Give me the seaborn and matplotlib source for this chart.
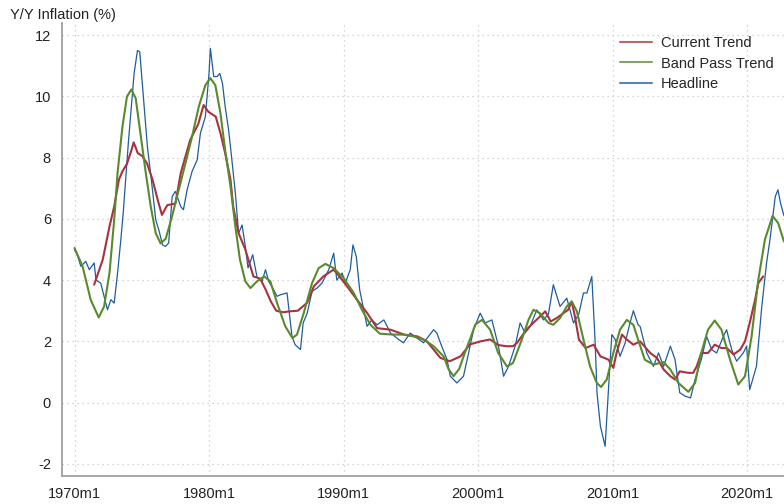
import numpy as np
import pandas as pd
import matplotlib
matplotlib.use("Agg")
import matplotlib.pyplot as plt
import seaborn as sns

# Headline y/y inflation (decimal year, %)
hl_year = [1970.0, 1970.2, 1970.47, 1970.84, 1971.1, 1971.46, 1971.6, 1971.95, 1972.2, 1972.45,
           1972.7, 1972.95, 1973.2, 1973.44, 1973.62, 1973.8, 1974.0, 1974.23, 1974.43, 1974.68,
           1974.85, 1975.18, 1975.42, 1975.74, 1976.04, 1976.3, 1976.54, 1976.76, 1977.0, 1977.26,
           1977.5, 1977.9, 1978.1, 1978.37, 1978.74, 1979.12, 1979.36, 1979.73, 1980.0, 1980.1,
           1980.35, 1980.6, 1980.8, 1981.0, 1981.2, 1981.46, 1981.7, 1981.96, 1982.2, 1982.46,
           1982.7, 1982.9, 1983.08, 1983.25, 1983.57, 1983.94, 1984.2, 1984.44, 1984.8, 1985.06,
           1985.3, 1985.8, 1986.17, 1986.4, 1986.8, 1987.0, 1987.3, 1987.66, 1988.03, 1988.4,
           1988.9, 1989.27, 1989.5, 1989.9, 1990.13, 1990.5, 1990.7, 1990.95, 1991.2, 1991.5,
           1991.75, 1992.1, 1992.5, 1993.0, 1993.5, 1994.1, 1994.46, 1994.96, 1995.46, 1995.95,
           1996.7, 1996.94, 1997.3, 1997.7, 1997.94, 1998.43, 1998.92, 1999.3, 1999.67, 2000.16,
           2000.53, 2001.03, 2001.52, 2001.9, 2002.27, 2002.76, 2003.13, 2003.5, 2003.88, 2004.37,
           2004.87, 2005.24, 2005.6, 2006.1, 2006.6, 2007.1, 2007.5, 2007.84, 2008.1, 2008.46,
           2008.7, 2008.85, 2009.1, 2009.45, 2009.8, 2009.95, 2010.2, 2010.56, 2010.94, 2011.3,
           2011.55, 2011.9, 2012.05, 2012.55, 2013.04, 2013.42, 2013.8, 2014.3, 2014.65, 2015.0,
           2015.4, 2015.8, 2016.14, 2016.6, 2017.0, 2017.37, 2017.74, 2018.24, 2018.48, 2018.86,
           2019.23, 2019.72, 2019.97, 2020.2, 2020.7, 2021.1, 2021.45, 2021.7, 2022.1, 2022.3,
           2022.5, 2022.75]
hl_val = [4.99, 4.83, 4.45, 4.61, 4.34, 4.56, 4.0, 3.9, 3.47, 3.03,
          3.36, 3.25, 4.23, 5.3, 6.19, 7.28, 8.47, 9.67, 10.75, 11.5,
          11.46, 9.67, 8.36, 7.17, 5.97, 5.59, 5.15, 5.1, 5.21, 6.73,
          6.9, 6.4, 6.3, 6.95, 7.55, 7.93, 8.8, 9.34, 10.75, 11.57,
          10.65, 10.65, 10.75, 10.43, 9.67, 8.9, 7.93, 6.84, 5.53, 5.8,
          5.1, 4.4, 4.61, 4.83, 4.1, 3.96, 4.34, 3.96, 3.69, 3.47,
          3.52, 3.58, 2.16, 1.89, 1.73, 2.6, 2.92, 3.63, 3.74, 3.9,
          4.34, 4.88, 4.0, 4.23, 3.9, 4.34, 5.15, 4.77, 3.69, 3.03,
          2.49, 2.7, 2.54, 2.7, 2.27, 2.06, 1.95, 2.27, 2.11, 1.95,
          2.38, 2.27, 1.84, 1.4, 0.86, 0.64, 0.86, 1.62, 2.38, 2.92,
          2.6, 2.7, 1.84, 0.86, 1.18, 1.84, 2.6, 2.27, 2.49, 3.03,
          2.7, 2.9, 3.85, 3.14, 3.41, 2.6, 2.9, 3.58, 3.58, 4.12,
          2.06, 0.3, -0.77, -1.43, 1.18, 2.22, 2.06, 1.51, 1.95, 2.6,
          3.0, 2.54, 2.49, 1.62, 1.18, 1.62, 1.18, 1.84, 1.4, 0.32,
          0.21, 0.15, 0.75, 1.4, 2.16, 1.73, 1.62, 2.16, 2.38, 1.73,
          1.35, 1.62, 1.84, 0.42, 1.18, 3.14, 4.55, 5.3, 6.73, 6.95,
          6.5, 6.1]

# Current trend
ct_year = [1971.46, 1972.1, 1972.6, 1972.95, 1973.3, 1973.56, 1973.9, 1974.2, 1974.4, 1974.7,
           1975.05, 1975.4, 1975.8, 1976.2, 1976.5, 1976.9, 1977.5, 1977.9, 1978.6, 1979.2,
           1979.6, 1979.95, 1980.5, 1980.85, 1981.2, 1981.6, 1981.8, 1982.2, 1982.7, 1983.3,
           1983.8, 1984.2, 1984.6, 1985.0, 1985.5, 1986.0, 1986.6, 1987.3, 1987.8, 1988.5,
           1989.25, 1989.5, 1990.26, 1991.0, 1991.75, 1992.5, 1993.5, 1994.5, 1995.5, 1996.2,
           1997.2, 1997.9, 1998.7, 1999.4, 2000.2, 2000.9, 2001.5, 2002.1, 2002.6, 2002.9,
           2003.6, 2004.1, 2004.75, 2005.0, 2005.4, 2005.85, 2006.35, 2006.7, 2006.97, 2007.2,
           2007.5, 2008.0, 2008.6, 2009.1, 2009.7, 2010.06, 2010.3, 2010.7, 2011.06, 2011.55,
           2012.05, 2012.8, 2013.3, 2013.8, 2014.3, 2014.65, 2015.0, 2015.64, 2016.0, 2016.26,
           2016.6, 2017.1, 2017.6, 2018.1, 2018.5, 2019.0, 2019.5, 2019.85, 2020.2, 2020.6,
           2020.84, 2021.2]
ct_val = [3.85, 4.67, 5.75, 6.4, 7.28, 7.55, 7.8, 8.2, 8.5, 8.15,
          8.05, 7.8, 7.28, 6.6, 6.13, 6.45, 6.5, 7.5, 8.58, 9.1,
          9.72, 9.5, 9.34, 8.8, 8.15, 7.27, 6.4, 5.53, 5.0, 4.12,
          4.05, 3.7, 3.3, 3.0, 2.95, 2.98, 3.0, 3.26, 3.8, 4.12,
          4.34, 4.23, 3.8, 3.36, 2.93, 2.43, 2.38, 2.22, 2.16, 2.0,
          1.46, 1.35, 1.51, 1.9, 2.0, 2.06, 1.88, 1.84, 1.84, 1.95,
          2.38, 2.6, 2.87, 2.98, 2.65, 2.76, 2.92, 3.03, 3.3, 2.82,
          2.06, 1.78, 1.89, 1.51, 1.4, 1.13, 1.62, 2.22, 2.06, 1.89,
          2.0, 1.62, 1.46, 1.08, 0.86, 0.75, 1.02, 0.97, 0.97, 1.18,
          1.62, 1.62, 1.89, 1.78, 1.78, 1.57, 1.73, 2.0, 2.6, 3.36,
          3.9, 4.12]

# Band pass trend
bp_year = [1970.0, 1970.6, 1971.2, 1971.8, 1972.2, 1972.6, 1972.95, 1973.2, 1973.56, 1973.9,
           1974.23, 1974.55, 1974.9, 1975.3, 1975.67, 1976.04, 1976.4, 1976.78, 1977.2, 1977.75,
           1978.25, 1978.74, 1979.24, 1979.73, 1980.1, 1980.47, 1980.85, 1981.2, 1981.6, 1981.96,
           1982.3, 1982.7, 1983.08, 1983.57, 1984.1, 1984.56, 1985.06, 1985.67, 1986.2, 1986.54,
           1987.04, 1987.66, 1988.15, 1988.65, 1989.27, 1990.0, 1990.76, 1991.37, 1992.0, 1992.7,
           1993.7, 1994.46, 1995.2, 1995.95, 1996.7, 1997.44, 1997.8, 1998.18, 1998.6, 1999.0,
           1999.4, 1999.8, 2000.3, 2000.9, 2001.5, 2002.15, 2002.6, 2003.26, 2003.75, 2004.12,
           2004.6, 2005.24, 2005.6, 2006.1, 2006.6, 2006.97, 2007.35, 2007.84, 2008.33, 2008.83,
           2009.15, 2009.57, 2010.06, 2010.56, 2011.06, 2011.55, 2011.9, 2012.4, 2013.04, 2013.8,
           2014.3, 2014.9, 2015.64, 2016.14, 2016.6, 2017.1, 2017.6, 2018.1, 2018.74, 2019.35,
           2019.85, 2020.34, 2020.84, 2021.33, 2021.9, 2022.32, 2022.75]
bp_val = [5.05, 4.45, 3.36, 2.78, 3.14, 4.23, 5.97, 7.5, 9.0, 10.0,
          10.23, 9.94, 8.8, 7.5, 6.4, 5.53, 5.2, 5.35, 6.0, 6.95,
          7.82, 8.69, 9.67, 10.37, 10.6, 10.37, 9.45, 8.25, 7.06, 5.75,
          4.67, 3.96, 3.74, 3.96, 4.12, 3.96, 3.25, 2.49, 2.11, 2.22,
          2.92, 3.9, 4.39, 4.53, 4.39, 4.07, 3.58, 3.03, 2.54, 2.25,
          2.22, 2.22, 2.16, 2.06, 1.84, 1.51, 1.1, 0.86, 1.1, 1.6,
          2.06, 2.55, 2.7, 2.38, 1.62, 1.18, 1.29, 2.06, 2.7, 3.03,
          2.92, 2.6, 2.54, 2.76, 3.14, 3.3, 2.98, 2.06, 1.18, 0.64,
          0.51, 0.75, 1.62, 2.38, 2.7, 2.54, 2.06, 1.4, 1.24, 1.32,
          1.08, 0.64, 0.35, 0.64, 1.62, 2.38, 2.68, 2.38, 1.4, 0.59,
          0.86, 2.16, 4.01, 5.32, 6.1, 5.86, 5.26]

x_ticks = [1970, 1980, 1990, 2000, 2010, 2020]
x_labels = ["1970m1", "1980m1", "1990m1", "2000m1", "2010m1", "2020m1"]
y_ticks = [-2, 0, 2, 4, 6, 8, 10, 12]

sns.set_style("white")
plt.rcParams["font.family"] = ["Liberation Sans", "DejaVu Sans"]
plt.rcParams["axes.unicode_minus"] = False

fig = plt.figure(figsize=(7.84, 5.04), dpi=100)
ax = fig.add_axes([62 / 784, 28 / 504, 722 / 784, 453 / 504])

sns.lineplot(x=ct_year, y=ct_val, ax=ax, color="#a8323e", lw=1.5, label="Current Trend",
             sort=False, zorder=3)
sns.lineplot(x=bp_year, y=bp_val, ax=ax, color="#5a8a2e", lw=1.5, label="Band Pass Trend",
             sort=False, zorder=4)
sns.lineplot(x=hl_year, y=hl_val, ax=ax, color="#1f5d9c", lw=0.9, label="Headline",
             sort=False, zorder=2)

ax.set_xlim(1969.07, 2022.75)
ax.set_ylim(-2.4, 12.4)
ax.set_xticks(x_ticks)
ax.set_xticklabels(x_labels)
ax.set_yticks(y_ticks)
ax.set_xlabel("")
ax.set_ylabel("")

ax.grid(True, linestyle=(0, (1, 3)), color="#c8c8c8", lw=0.9)
for s in ["top", "right"]:
    ax.spines[s].set_visible(False)
for s in ["left", "bottom"]:
    ax.spines[s].set_color("#a0a0a0")
    ax.spines[s].set_linewidth(1.3)
ax.tick_params(axis="both", direction="out", length=5, width=1, color="#a0a0a0",
               labelsize=10.5, labelcolor="#222222", pad=3)

fig.text(10 / 784, 1 - 15 / 504, "Y/Y Inflation (%)", fontsize=10.5, color="#222222",
         ha="left", va="center")

leg = ax.legend(loc="upper left", bbox_to_anchor=(620 / 784, 1 - 36 / 504),
                bbox_transform=fig.transFigure, frameon=False, fontsize=10.5,
                handlelength=2.2, handletextpad=0.6, labelspacing=0.45, borderpad=0,
                borderaxespad=0)
for line in leg.get_lines():
    line.set_linewidth(1.5)
    line.set_alpha(0.75)

fig.savefig("out.png", dpi=100)
